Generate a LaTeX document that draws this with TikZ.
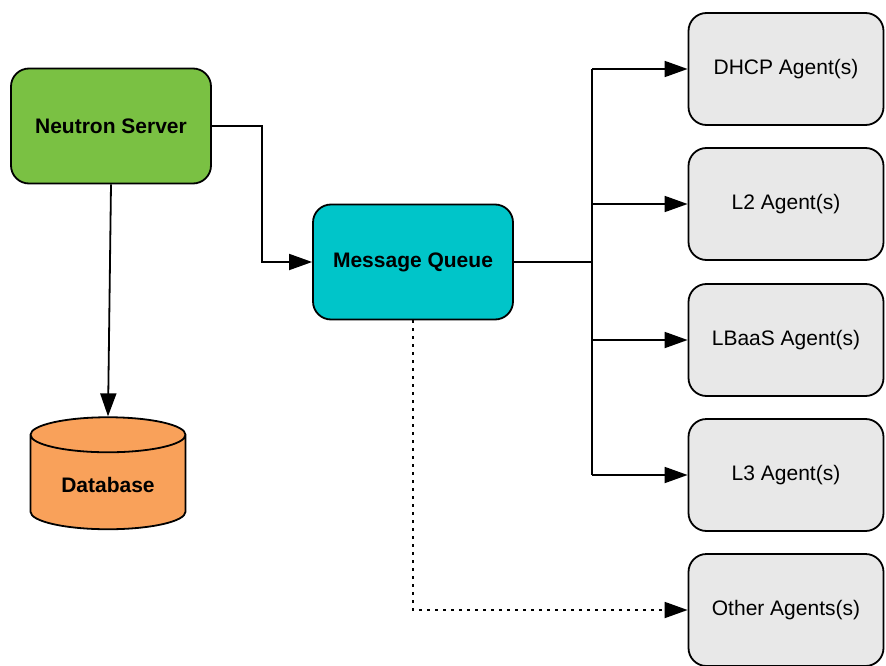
\documentclass[tikz,border=0pt]{standalone}
\usepackage{fontspec}
\setmainfont{Liberation Sans}
\usetikzlibrary{arrows.meta,shapes.geometric}
\definecolor{nsgreen}{HTML}{7AC143}
\definecolor{mqteal}{HTML}{00C5C9}
\definecolor{dborange}{HTML}{F9A15A}
\definecolor{agentgray}{HTML}{E8E8E8}

\begin{document}
\begin{tikzpicture}[x=1pt,y=-1pt,
	box/.style={draw,line width=1.8pt,rounded corners=18pt,minimum width=200pt,minimum height=115pt,font=\fontsize{21}{25}\selectfont},
	agent/.style={box,fill=agentgray,minimum width=195pt,minimum height=112pt},
	link/.style={line width=1.8pt,-{Triangle[length=23pt,width=16pt]}}]
	\useasboundingbox (0,0) rectangle (886,666);

	\node[box,fill=nsgreen,font=\fontsize{21}{25}\selectfont\bfseries] (ns) at (111,126) {Neutron Server};
	\node[box,fill=mqteal,font=\fontsize{21}{25}\selectfont\bfseries] (mq) at (413,262) {Message Queue};
	\node[cylinder,shape border rotate=90,draw,line width=1.8pt,fill=dborange,cylinder uses custom fill,cylinder body fill=dborange,cylinder end fill=dborange,minimum width=155pt,minimum height=112pt,aspect=0.35,font=\fontsize{21}{25}\selectfont\bfseries] (db) at (108,485) {Database};

	\node[agent] (dhcp) at (786,69) {DHCP Agent(s)};
	\node[agent] (l2) at (786,204) {L2 Agent(s)};
	\node[agent] (lbaas) at (786,340) {LBaaS Agent(s)};
	\node[agent] (l3) at (786,475) {L3 Agent(s)};
	\node[agent] (other) at (786,610) {Other Agents(s)};

	\coordinate (split) at (592,262);

	\draw[link] (ns.east) -- ++(50,0) |- (mq.west);
	\draw[link] (ns.south) -- (db.north);

	\draw[line width=1.8pt] (mq.east) -- (split);
	\draw[line width=1.8pt] (split |- dhcp.west) -- (split |- l3.west);
	\foreach \ag in {dhcp,l2,lbaas,l3}
		\draw[link] (split |- \ag.west) -- (\ag.west);

	\draw[link,dash pattern=on 3pt off 5pt] (mq.south) -- (mq.south |- other.west) -- (other.west);
\end{tikzpicture}
\end{document}
